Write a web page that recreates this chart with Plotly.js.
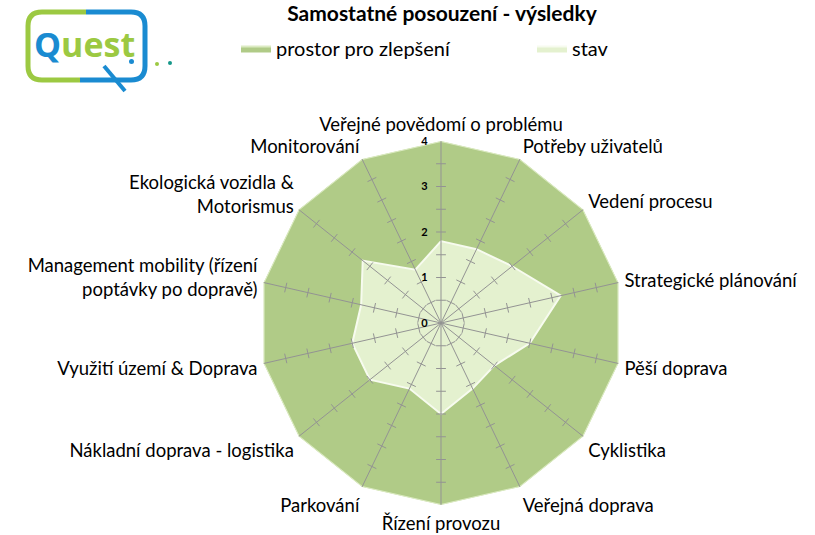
<!DOCTYPE html>
<html>
<head>
<meta charset="utf-8">
<script src="https://cdn.plot.ly/plotly-3.0.1.min.js"></script>
<style>html,body{margin:0;padding:0;background:#fff;}#chart{width:815px;height:535px;}</style>
</head>
<body>
<div id="chart"></div>
<script>
// ---- data ----
const categories = [
  "Veřejné povědomí o problému",
  "Potřeby uživatelů",
  "Vedení procesu",
  "Strategické plánování",
  "Pěší doprava",
  "Cyklistika",
  "Veřejná doprava",
  "Řízení provozu",
  "Parkování",
  "Nákladní doprava - logistika",
  "Využití území & Doprava",
  "Management mobility (řízení<br>poptávky po dopravě)",
  "Ekologická vozidla &<br>Motorismus",
  "Monitorování"
];
const stav = [1.8, 1.8, 2.0, 2.7, 2.0, 1.5, 1.6, 2.0, 1.6, 2.0, 2.0, 1.8, 2.2, 1.3];
const prostorTotal = [4, 4, 4, 4, 4, 4, 4, 4, 4, 4, 4, 4, 4, 4];
const radialTicks = [0, 1, 2, 3, 4];
const minorTicks = [0.5, 1, 1.5, 2, 2.5, 3, 3.5];
const seriesNames = ["prostor pro zlepšení", "stav"];
const titleText = "Samostatné posouzení - výsledky";

// ---- helpers ----
const W = 815, H = 535;
const X = px => px / W;
const Y = py => 1 - py / H;
const close = arr => arr.concat([arr[0]]);
const rMax = Math.max(...radialTicks);

// spoke tick marks and spoke lines (drawn above the fills)
const tickTheta = [], tickR = [], tickAngle = [];
const spokeTheta = [], spokeR = [];
categories.forEach((c, i) => {
  minorTicks.forEach(r => {
    tickTheta.push(c); tickR.push(r); tickAngle.push(i * 360 / categories.length);
  });
  spokeTheta.push(c, c, null); spokeR.push(0, rMax, null);
});

const traces = [
  {
    type: "scatterpolar", name: seriesNames[0],
    r: close(prostorTotal), theta: close(categories),
    mode: "lines", fill: "toself",
    fillcolor: "#b0cb87",
    line: {color: "#dcebc3", width: 2},
    hoverinfo: "skip"
  },
  {
    type: "scatterpolar", name: seriesNames[1],
    r: close(stav), theta: close(categories),
    mode: "lines", fill: "toself",
    fillcolor: "#e4f1cf",
    line: {color: "#f7fbef", width: 2},
    hoverinfo: "skip"
  },
  {
    type: "scatterpolar", showlegend: false,
    r: spokeR, theta: spokeTheta, mode: "lines", connectgaps: false,
    line: {color: "#939393", width: 1},
    hoverinfo: "skip"
  },
  {
    type: "scatterpolar", showlegend: false,
    r: tickR, theta: tickTheta, mode: "markers",
    marker: {symbol: "line-ew", size: 7, angle: tickAngle, color: "#939393", line: {color: "#939393", width: 1}},
    hoverinfo: "skip"
  }
];

// logo shapes
const shapes = [
  {type: "path", xref: "paper", yref: "paper",
   path: `M${X(86)},${Y(12)} L${X(42)},${Y(12)} Q${X(28)},${Y(12)} ${X(28)},${Y(26)} L${X(28)},${Y(66)} Q${X(28)},${Y(80)} ${X(42)},${Y(80)} L${X(80)},${Y(80)}`,
   line: {color: "#9cc942", width: 5}},
  {type: "path", xref: "paper", yref: "paper",
   path: `M${X(86)},${Y(12)} L${X(131)},${Y(12)} Q${X(145)},${Y(12)} ${X(145)},${Y(26)} L${X(145)},${Y(66)} Q${X(145)},${Y(80)} ${X(131)},${Y(80)} L${X(80)},${Y(80)}`,
   line: {color: "#1a8bd1", width: 5}},
  {type: "line", xref: "paper", yref: "paper", x0: X(104), y0: Y(66), x1: X(125), y1: Y(91),
   line: {color: "#1a8bd1", width: 4}},
  {type: "circle", xref: "paper", yref: "paper", x0: X(129), y0: Y(59), x1: X(134), y1: Y(64),
   fillcolor: "#1a8bd1", line: {width: 0}},
  {type: "circle", xref: "paper", yref: "paper", x0: X(155), y0: Y(62), x1: X(159), y1: Y(66),
   fillcolor: "#9cc942", line: {width: 0}},
  {type: "circle", xref: "paper", yref: "paper", x0: X(168), y0: Y(61), x1: X(172), y1: Y(65),
   fillcolor: "#16988a", line: {width: 0}}
];

const font = "Lato, 'Open Sans', sans-serif";

const layout = {
  width: W, height: H,
  margin: {l: 0, r: 0, t: 0, b: 0, autoexpand: false},
  paper_bgcolor: "#ffffff",
  font: {family: font, color: "#000000"},
  title: {text: "<b>" + titleText + "</b>", x: 442 / W, xanchor: "center", y: 1 - 14 / H, yanchor: "middle", yref: "container",
          font: {size: 21, family: font, color: "#000"}},
  showlegend: true,
  legend: {orientation: "h", x: 236 / W, xanchor: "left", y: 1 - 29 / H, yanchor: "top",
           font: {size: 20, family: font}, entrywidth: 251, entrywidthmode: "pixels",
           itemclick: false, itemdoubleclick: false},
  polar: {
    domain: {x: [X(441 - 182), X(441 + 182)], y: [Y(323 + 182), Y(323 - 182)]},
    bgcolor: "rgba(0,0,0,0)",
    gridshape: "linear",
    angularaxis: {
      type: "category", categoryarray: categories, direction: "clockwise", rotation: 90,
      showgrid: false, showline: false, ticks: "outside", ticklen: 2, tickcolor: "rgba(0,0,0,0)",
      tickfont: {size: 18.5, family: font, color: "#000"}
    },
    radialaxis: {
      range: [0, rMax], angle: 90, tickangle: 90, tickvals: radialTicks, ticktext: radialTicks.map(v => "<b>" + v + "</b>"),
      showgrid: false, showline: false, ticks: "outside", ticklen: 9, tickcolor: "rgba(0,0,0,0)", side: "counterclockwise",
      tickfont: {size: 11, family: font, color: "#000"}
    }
  },
  shapes: shapes,
  annotations: [
    {xref: "paper", yref: "paper", x: X(84), y: Y(44), xanchor: "center", yanchor: "middle", showarrow: false,
     text: "<b><span style='color:#1a8bd1'>Q</span><span style='color:#9cc942'>uest</span></b>",
     font: {size: 34, family: "'Open Sans', sans-serif"}}
  ]
};

Plotly.newPlot("chart", traces, layout, {displayModeBar: false, staticPlot: true});
</script>
</body>
</html>
